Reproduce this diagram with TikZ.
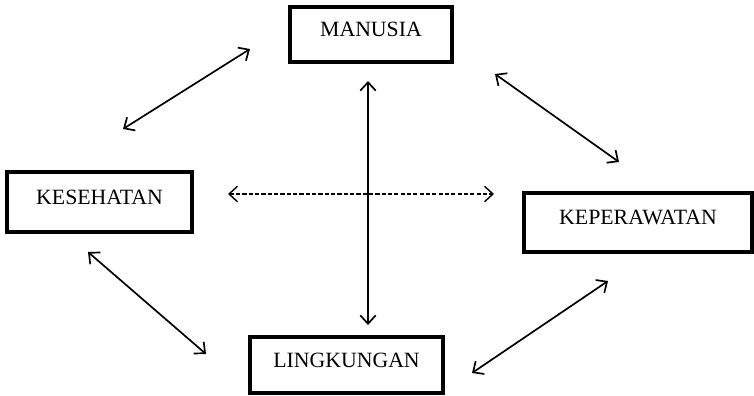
\documentclass[tikz,border=0pt]{standalone}
\usepackage{fontspec}
\setmainfont{Liberation Serif}
\usetikzlibrary{arrows.meta}
\tikzset{
	konsep/.style={draw, line width=2.6pt, fill=white, inner sep=0pt, text height=8pt, text depth=5pt,
		font=\fontsize{15.5pt}{18pt}\selectfont},
	panah/.style={line width=1.2pt, {Straight Barb[length=6pt,width=11pt]}-{Straight Barb[length=6pt,width=11pt]}}
}

\begin{document}
\begin{tikzpicture}[x=0.025cm, y=-0.025cm]
			%%%%% START %%%%%
			\useasboundingbox (0, 0) rectangle (754, 395);
			
			\node[konsep, minimum width=4.05cm, minimum height=1.375cm] (manusia) at (371, 34.5) {MANUSIA};
			\node[konsep, minimum width=4.625cm, minimum height=1.5cm] (kesehatan) at (99.5, 202) {KESEHATAN};
			\node[konsep, minimum width=5.7cm, minimum height=1.475cm] (keperawatan) at (638, 222.5) {KEPERAWATAN};
			\node[konsep, minimum width=4.825cm, minimum height=1.4cm] (lingkungan) at (346.5, 365) {LINGKUNGAN};
			
			\coordinate (mk1) at (250, 49);
			\coordinate (mk2) at (123, 129);
			\coordinate (mp1) at (495, 74);
			\coordinate (mp2) at (619, 162);
			\coordinate (kl1) at (88, 252);
			\coordinate (kl2) at (206, 354);
			\coordinate (lp1) at (472, 373);
			\coordinate (lp2) at (608, 281);
			\coordinate (ml1) at (368, 81);
			\coordinate (ml2) at (368, 325);
			\coordinate (kk1) at (228, 194);
			\coordinate (kk2) at (494, 194);
			
			\draw[panah] (mk1) -- (mk2);
			\draw[panah] (mp1) -- (mp2);
			\draw[panah] (kl1) -- (kl2);
			\draw[panah] (lp1) -- (lp2);
			\draw[panah] (ml1) -- (ml2);
			\draw[panah, line width=1pt, dash pattern=on 3pt off 1.5pt] (kk1) -- (kk2);
			
			%%%%% END %%%%%
\end{tikzpicture}
\end{document}
